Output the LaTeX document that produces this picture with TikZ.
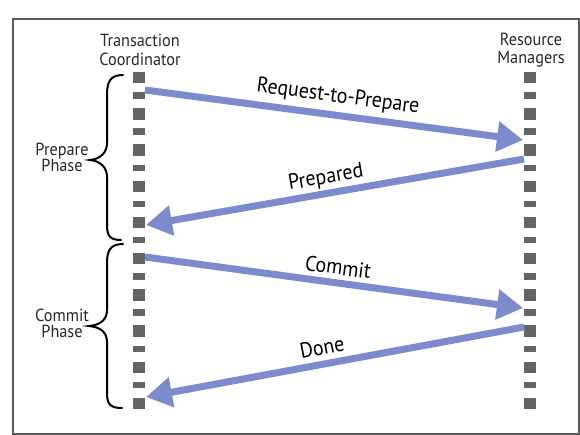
\documentclass[tikz,border=0pt]{standalone}
\usepackage{fontspec}
\setmainfont[FakeStretch=0.93]{PT Sans}
\usetikzlibrary{arrows.meta}
\definecolor{arrowblue}{RGB}{124,139,204}
\definecolor{lifegray}{RGB}{100,100,100}
\definecolor{framegray}{RGB}{90,90,90}
\definecolor{textgray}{RGB}{40,40,40}
\tikzset{
  lifeline/.style={line width=12pt, lifegray, dash pattern=on 11.5pt off 8.7pt on 6.5pt off 9.5pt},
  msg/.style={line width=7pt, arrowblue, -{Triangle[length=26pt,width=29pt]}},
  head/.style={align=center, text=textgray, font=\fontsize{17.5}{18.5}\selectfont, inner sep=0pt},
  phase/.style={align=center, text=textgray, font=\fontsize{17.5}{16}\selectfont, inner sep=0pt},
  msglabel/.style={text=black, font=\fontsize{21.5}{24}\selectfont, inner sep=0pt},
  bracepath/.style={line width=2pt, black, line cap=round}
}
\begin{document}
\begin{tikzpicture}[x=1pt,y=-1pt]
\useasboundingbox (0,0) rectangle (580,435);
\fill[white] (0,0) rectangle (580,435);
\draw[framegray, line width=1.6pt] (13,19) rectangle (579,434);

% lifeline headers
\node[head] (tc) at (140,50) {Transaction\\Coordinator};
\node[head] (rm) at (531,50) {Resource\\Managers};

% lifelines
\coordinate (tctop) at (139,72);
\coordinate (tcbot) at (139,411);
\coordinate (rmtop) at (530,72);
\coordinate (rmbot) at (530,411);
\draw[lifeline] (tctop) -- (tcbot);
\draw[lifeline] (rmtop) -- (rmbot);

% message end points
\coordinate (a1s) at (145,90);
\coordinate (a1e) at (523,140);
\coordinate (a2s) at (524,159);
\coordinate (a2e) at (146,225);
\coordinate (a3s) at (145,257);
\coordinate (a3e) at (523,308);
\coordinate (a4s) at (524,327);
\coordinate (a4e) at (146,397);

\draw[msg] (a1s) -- (a1e);
\draw[msg] (a2s) -- (a2e);
\draw[msg] (a3s) -- (a3e);
\draw[msg] (a4s) -- (a4e);

\node[msglabel, rotate=-7.6] (l1) at (338,97) {Request-to-Prepare};
\node[msglabel, rotate=9.8] (l2) at (326,178) {Prepared};
\node[msglabel, rotate=-7.7] (l3) at (338,267) {Commit};
\node[msglabel, rotate=10.5] (l4) at (322,347) {Done};

% braces
\draw[bracepath] (123,75) .. controls (110,75) and (107,82) .. (107,95)
  -- (107,143) .. controls (107,153) and (100,159) .. (90,160)
  .. controls (100,161) and (107,167) .. (107,177)
  -- (107,225) .. controls (107,236) and (110,240) .. (121,240);
\draw[bracepath] (123,244) .. controls (110,244) and (107,251) .. (107,263)
  -- (107,310) .. controls (107,320) and (100,325) .. (89,326)
  .. controls (100,327) and (107,332) .. (107,342)
  -- (107,393) .. controls (107,404) and (110,408) .. (122,408);

\node[phase] (pp) at (62,157) {Prepare\\Phase};
\node[phase] (cp) at (62,323) {Commit\\Phase};
\end{tikzpicture}
\end{document}
